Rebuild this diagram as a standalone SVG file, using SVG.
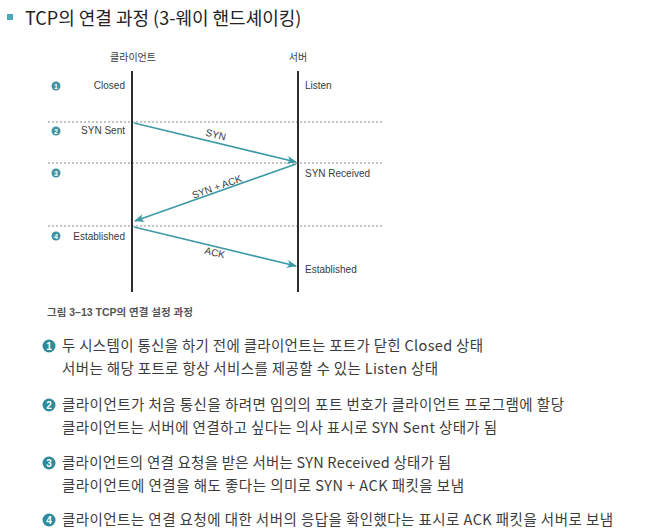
<svg xmlns="http://www.w3.org/2000/svg" width="661" height="532" viewBox="0 0 661 532">
<defs>
<style>
.t{font-family:"Liberation Sans","Noto Sans CJK KR",sans-serif;fill:#333}
.d{font-size:10px;fill:#3a3a3a}
.l{font-size:14.5px;fill:#3c3c3c;font-family:"Noto Sans CJK KR","Liberation Sans",sans-serif}
.dot{stroke:#8a8a8a;stroke-width:1.2;stroke-dasharray:2 2}
.life{stroke:#2e2e2e;stroke-width:2}
.msg{stroke:#3d9aa6;stroke-width:1.6;fill:none;marker-end:url(#ah)}
.nc{fill:#3f93a2}
.nt{font-family:"Liberation Sans",sans-serif;font-size:7px;font-weight:bold;fill:#fff;text-anchor:middle}
.bc{fill:#2f8a99}
.bt{font-family:"Liberation Sans",sans-serif;font-size:10px;font-weight:bold;fill:#fff;text-anchor:middle}
</style>
<marker id="ah" markerWidth="10" markerHeight="8" refX="9" refY="4" orient="auto" markerUnits="userSpaceOnUse">
<path d="M0,0 L10,4 L0,8 L2.5,4 Z" fill="#3d9aa6"/>
</marker>
</defs>
<rect width="661" height="532" fill="#fff"/>
<g id="title">
<rect x="7" y="14" width="6" height="6" fill="#4aa8b8"/>
<text class="t" x="25" y="25" style="font-size:18px;font-family:'Noto Sans CJK KR','Liberation Sans',sans-serif;fill:#222">TCP의 연결 과정 (3-웨이 핸드셰이킹)</text>
</g>
<g id="grid">
<line class="dot" x1="48" y1="122" x2="383" y2="122"/>
<line class="dot" x1="48" y1="163" x2="383" y2="163"/>
<line class="dot" x1="48" y1="226" x2="383" y2="226"/>
</g>
<g id="client">
<text class="t d" x="133" y="61" text-anchor="middle">클라이언트</text>
<line class="life" x1="132" y1="71" x2="132" y2="292"/>
</g>
<g id="server">
<text class="t d" x="298" y="61" text-anchor="middle">서버</text>
<line class="life" x1="298" y1="71" x2="298" y2="292"/>
</g>
<g id="steps">
<circle class="nc" cx="56" cy="86" r="4.5"/><text class="nt" x="56" y="88.5">1</text>
<circle class="nc" cx="56" cy="131" r="4.5"/><text class="nt" x="56" y="133.5">2</text>
<circle class="nc" cx="56" cy="173" r="4.5"/><text class="nt" x="56" y="175.5">3</text>
<circle class="nc" cx="56" cy="236" r="4.5"/><text class="nt" x="56" y="238.5">4</text>
</g>
<g id="states">
<text class="t d" x="125" y="89" text-anchor="end">Closed</text>
<text class="t d" x="125" y="134" text-anchor="end">SYN  Sent</text>
<text class="t d" x="125" y="240" text-anchor="end">Established</text>
<text class="t d" x="305" y="89">Listen</text>
<text class="t d" x="305" y="177">SYN  Received</text>
<text class="t d" x="305" y="273">Established</text>
</g>
<g id="connectors">
<line class="msg" x1="134" y1="123" x2="296" y2="162"/>
<line class="msg" x1="296" y1="164" x2="135" y2="221"/>
<line class="msg" x1="134" y1="227" x2="296" y2="266"/>
<text class="t d" transform="translate(215,138) rotate(13.6)" text-anchor="middle">SYN</text>
<text class="t d" transform="translate(218,190) rotate(-19.5)" text-anchor="middle">SYN + ACK</text>
<text class="t d" transform="translate(214,256) rotate(13.6)" text-anchor="middle">ACK</text>
</g>
<g id="caption">
<text class="t" x="47" y="316" style="font-size:10.5px;font-weight:bold;fill:#555">그림 3–13 TCP의 연결 설정 과정</text>
</g>
<g id="list">
<circle class="bc" cx="49" cy="346" r="6.5"/><text class="bt" x="49" y="349.5">1</text>
<text class="l" x="62" y="351" textLength="421" lengthAdjust="spacing">두 시스템이 통신을 하기 전에 클라이언트는 포트가 닫힌 Closed 상태</text>
<text class="l" x="62" y="374" textLength="376" lengthAdjust="spacing">서버는 해당 포트로 항상 서비스를 제공할 수 있는 Listen 상태</text>
<circle class="bc" cx="49" cy="405" r="6.5"/><text class="bt" x="49" y="408.5">2</text>
<text class="l" x="62" y="410" textLength="502" lengthAdjust="spacing">클라이언트가 처음 통신을 하려면 임의의 포트 번호가 클라이언트 프로그램에 할당</text>
<text class="l" x="62" y="433" textLength="435" lengthAdjust="spacing">클라이언트는 서버에 연결하고 싶다는 의사 표시로 SYN Sent 상태가 됨</text>
<circle class="bc" cx="49" cy="463" r="6.5"/><text class="bt" x="49" y="466.5">3</text>
<text class="l" x="62" y="468" textLength="389" lengthAdjust="spacing">클라이언트의 연결 요청을 받은 서버는 SYN Received 상태가 됨</text>
<text class="l" x="62" y="491" textLength="402" lengthAdjust="spacing">클라이언트에 연결을 해도 좋다는 의미로 SYN + ACK 패킷을 보냄</text>
<circle class="bc" cx="49" cy="520" r="6.5"/><text class="bt" x="49" y="523.5">4</text>
<text class="l" x="62" y="525" textLength="551" lengthAdjust="spacing">클라이언트는 연결 요청에 대한 서버의 응답을 확인했다는 표시로 ACK 패킷을 서버로 보냄</text>
</g>
</svg>
